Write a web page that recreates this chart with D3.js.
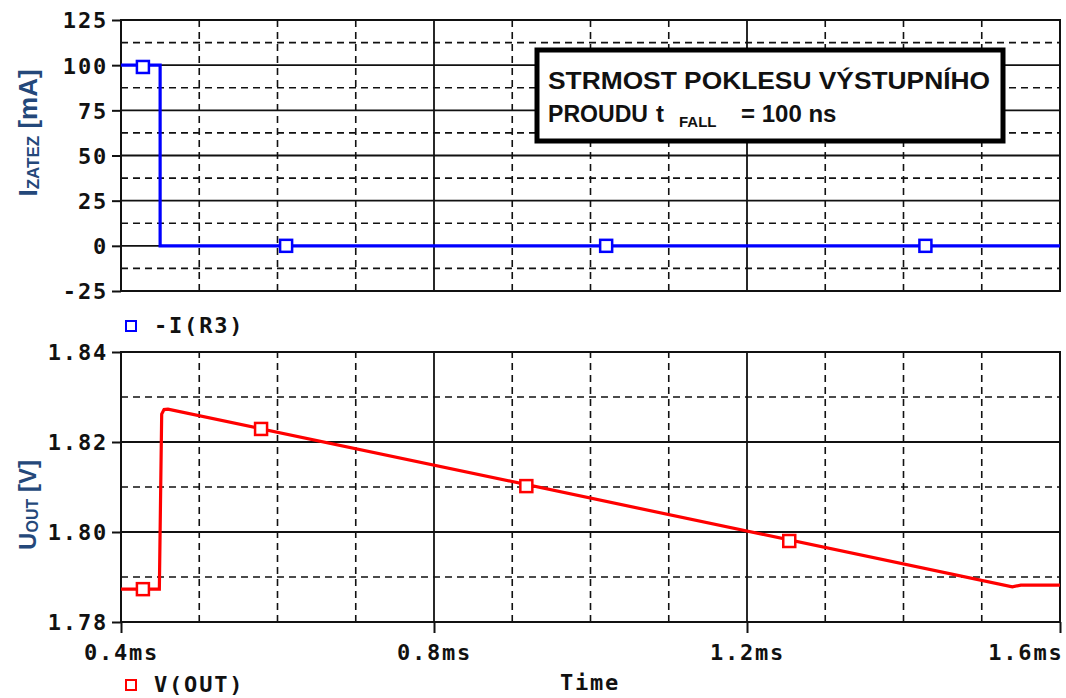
<!DOCTYPE html>
<html><head><meta charset="utf-8">
<script src="https://cdn.jsdelivr.net/npm/d3@7"></script>
<style>
body{margin:0;background:#fff;}
svg{display:block;}
.tick text{font-family:"DejaVu Sans Mono",monospace;font-weight:bold;font-size:22px;letter-spacing:1.8px;fill:#111;}
</style></head>
<body><svg id="c" width="1066" height="698"></svg>
<script>
// ---- data ----
const topTicks = [-25, 0, 25, 50, 75, 100, 125];
const topTickLabels = ["-25", "0", "25", "50", "75", "100", "125"];
const topMinor = [-12.5, 12.5, 37.5, 62.5, 87.5, 112.5];
const botTicks = [1.78, 1.80, 1.82, 1.84];
const botTickLabels = ["1.78", "1.80", "1.82", "1.84"];
const botMinor = [1.79, 1.81, 1.83];
const xTicks = [0.4, 0.8, 1.2, 1.6];
const xTickLabels = ["0.4ms", "0.8ms", "1.2ms", "1.6ms"];
const xMinor = [0.5, 0.6, 0.7, 0.9, 1.0, 1.1, 1.3, 1.4, 1.5];
// -I(R3) [mA] vs time [ms]
const iTime = [0.40, 0.45, 0.45, 1.60];
const iVal  = [100, 100, 0, 0];
const iMarkT = [0.428, 0.611, 1.020, 1.428];
const iMarkV = [99, 0, 0, 0];
// V(OUT) [V] vs time [ms]
const vTime = [0.40, 0.449, 0.452, 0.455, 0.460, 1.539, 1.550, 1.60];
const vVal  = [1.7873, 1.7873, 1.8262, 1.8272, 1.8273, 1.7878, 1.7882, 1.7882];
const vMarkT = [0.428, 0.579, 0.918, 1.254];
const vMarkV = [1.7873, 1.8229, 1.8102, 1.7980];

const svg = d3.select("#c");
svg.append("rect").attr("width",1066).attr("height",698).attr("fill","#fff");

const x = d3.scaleLinear().domain([0.4,1.6]).range([121,1060]);
const yT = d3.scaleLinear().domain([-25,125]).range([291,20]);
const yB = d3.scaleLinear().domain([1.78,1.84]).range([622,352]);

function grid(y, major, minor){
  const g = svg.append("g");
  const [y0,y1] = y.range();
  xMinor.forEach(t=>g.append("line").attr("x1",x(t)).attr("x2",x(t)).attr("y1",y0).attr("y2",y1)
    .attr("stroke","#111").attr("stroke-width",1.6).attr("stroke-dasharray","7,5"));
  xTicks.forEach(t=>g.append("line").attr("x1",x(t)).attr("x2",x(t)).attr("y1",y0).attr("y2",y1)
    .attr("stroke","#111").attr("stroke-width",1.8));
  minor.forEach(v=>g.append("line").attr("x1",121).attr("x2",1060).attr("y1",y(v)).attr("y2",y(v))
    .attr("stroke","#111").attr("stroke-width",1.6).attr("stroke-dasharray","7,5"));
  major.forEach(v=>g.append("line").attr("x1",121).attr("x2",1060).attr("y1",y(v)).attr("y2",y(v))
    .attr("stroke","#111").attr("stroke-width",1.8));
  g.append("rect").attr("x",121).attr("y",y1).attr("width",939).attr("height",y0-y1)
    .attr("fill","none").attr("stroke","#111").attr("stroke-width",2);
}
grid(yT, topTicks, topMinor);
grid(yB, botTicks, botMinor);

function yaxis(y, ticks, labels){
  const ax = d3.axisLeft(y).tickValues(ticks).tickSize(9).tickPadding(4)
    .tickFormat((d,i)=>labels[i]);
  const g = svg.append("g").attr("transform","translate(121,0)").call(ax);
  g.select(".domain").remove();
  g.selectAll(".tick line").attr("stroke","#111").attr("stroke-width",2);
  g.selectAll(".tick text").attr("dy","0.36em");
}
yaxis(yT, topTicks, topTickLabels);
yaxis(yB, botTicks, botTickLabels);

const xa = d3.axisBottom(x).tickValues(xTicks).tickSize(11).tickPadding(11)
  .tickFormat((d,i)=>xTickLabels[i]);
const gx = svg.append("g").attr("transform","translate(0,622)").call(xa);
gx.select(".domain").remove();
gx.selectAll(".tick line").attr("stroke","#111").attr("stroke-width",2);
gx.selectAll(".tick text").filter((d,i)=>i===xTicks.length-1).attr("text-anchor","end").attr("dx","3");

// traces
const blue = "#0000ff", red = "#ff0000";
svg.append("path").datum(iTime.map((t,i)=>[t,iVal[i]]))
  .attr("d", d3.line().x(d=>x(d[0])).y(d=>yT(d[1])))
  .attr("fill","none").attr("stroke",blue).attr("stroke-width",3.2);
svg.append("g").selectAll("rect").data(iMarkT).join("rect")
  .attr("x",t=>x(t)-6).attr("y",(t,i)=>yT(iMarkV[i])-6).attr("width",12).attr("height",12)
  .attr("fill","#fff").attr("stroke",blue).attr("stroke-width",2.5);

svg.append("path").datum(vTime.map((t,i)=>[t,vVal[i]]))
  .attr("d", d3.line().x(d=>x(d[0])).y(d=>yB(d[1])))
  .attr("fill","none").attr("stroke",red).attr("stroke-width",3.2);
svg.append("g").selectAll("rect").data(vMarkT).join("rect")
  .attr("x",t=>x(t)-6).attr("y",(t,i)=>yB(vMarkV[i])-6).attr("width",12).attr("height",12)
  .attr("fill","#fff").attr("stroke",red).attr("stroke-width",2.5);

// legends
const mono = {"font-family":"DejaVu Sans Mono,monospace","font-weight":"bold","font-size":"22px","letter-spacing":"1.8px","fill":"#111"};
function legend(yy, col, label){
  svg.append("rect").attr("x",126).attr("y",yy-12).attr("width",10).attr("height",10)
    .attr("fill","#fff").attr("stroke",col).attr("stroke-width",2);
  const t = svg.append("text").attr("x",154).attr("y",yy).text(label);
  Object.entries(mono).forEach(([k,v])=>t.style(k,v));
}
legend(333, blue, "-I(R3)");
legend(692, red, "V(OUT)");
const tt = svg.append("text").attr("x",590).attr("y",690).attr("text-anchor","middle").text("Time");
Object.entries(mono).forEach(([k,v])=>tt.style(k,v));

// axis titles
const titleCol = "#24487a";
function ytitle(cx, cy, main, sub, rest, fs, ss){
  const t = svg.append("text").attr("transform",`translate(${cx},${cy}) rotate(-90)`)
    .attr("text-anchor","middle").attr("fill",titleCol)
    .style("font-family","Liberation Sans, Arial, sans-serif").style("font-weight","bold").style("font-size",fs+"px");
  t.append("tspan").text(main);
  t.append("tspan").attr("dy",2).style("font-size",ss+"px").text(sub);
  t.append("tspan").attr("dy",-2).text(rest);
}
ytitle(37, 133, "I", "ZATEZ", " [mA]", 26, 17);
ytitle(36, 505, "U", "OUT", " [V]", 24, 16);

// annotation box
svg.append("rect").attr("x",537).attr("y",50).attr("width",466).attr("height",91)
  .attr("fill","#fff").attr("stroke","#000").attr("stroke-width",5);
const af = {"font-family":"Liberation Sans, Arial, sans-serif","font-weight":"bold","font-size":"24px","fill":"#111"};
function at(xx, yy, s, size){
  const t = svg.append("text").attr("x",xx).attr("y",yy).text(s);
  Object.entries(af).forEach(([k,v])=>t.style(k,v));
  if(size) t.style("font-size",size);
  return t;
}
at(548, 89, "STRMOST POKLESU VÝSTUPNÍHO").attr("textLength",442).attr("lengthAdjust","spacingAndGlyphs");
at(548, 122, "PROUDU").attr("textLength",100).attr("lengthAdjust","spacingAndGlyphs");
at(656, 122, "t");
at(679, 127, "FALL", "15px");
at(741, 122, "= 100 ns");
</script></body></html>
